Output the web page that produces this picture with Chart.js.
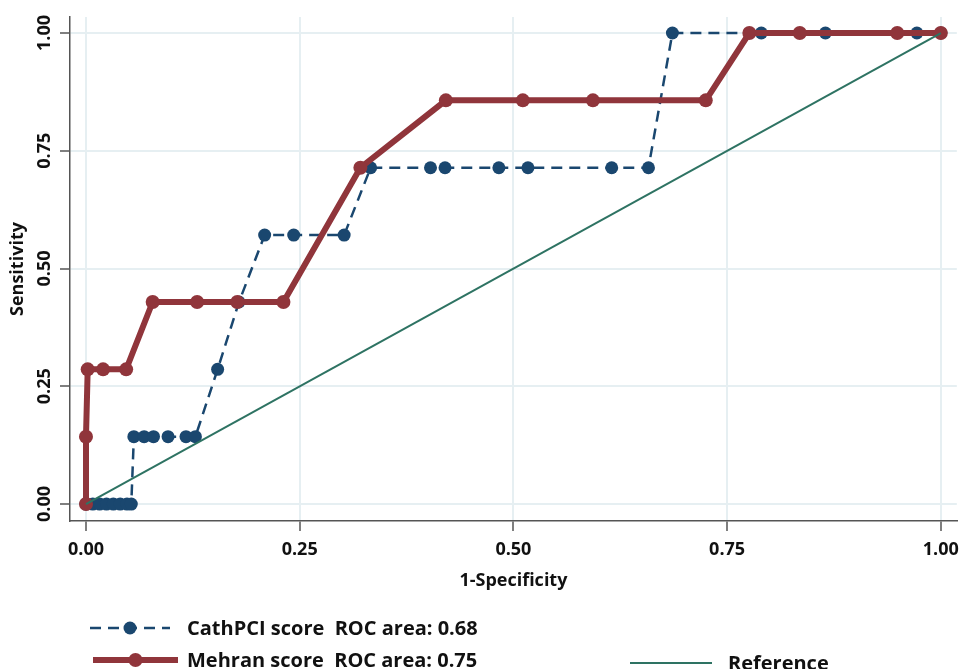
<!DOCTYPE html>
<html lang="en">
<head>
  <meta charset="UTF-8">
  <title>ROC curves</title>
  <script src="https://cdn.jsdelivr.net/npm/chart.js"></script>
  <style>
    html, body { margin: 0; padding: 0; background: #fff; }
    #wrap { position: relative; width: 967px; height: 669px; }
  </style>
</head>
<body>
  <div id="wrap"><canvas id="roc"></canvas></div>

  <script>
    // values
    const cathX = [0, 0.008, 0.016, 0.024, 0.032, 0.040, 0.048, 0.053,
                   0.056, 0.068, 0.079, 0.096, 0.117, 0.128,
                   0.154, 0.179,
                   0.209, 0.243, 0.302,
                   0.333, 0.403, 0.420, 0.483, 0.517, 0.615, 0.658,
                   0.686, 0.790, 0.865, 0.972, 1.0];
    const cathY = [0, 0, 0, 0, 0, 0, 0, 0,
                   0.143, 0.143, 0.143, 0.143, 0.143, 0.143,
                   0.286, 0.429,
                   0.571, 0.571, 0.571,
                   0.714, 0.714, 0.714, 0.714, 0.714, 0.714, 0.714,
                   1, 1, 1, 1, 1];

    const mehranX = [0, 0, 0.002, 0.020, 0.047, 0.078, 0.130, 0.177, 0.231,
                     0.321, 0.421, 0.511, 0.593, 0.725, 0.776, 0.835, 0.949, 1.0];
    const mehranY = [0, 0.143, 0.286, 0.286, 0.286, 0.429, 0.429, 0.429, 0.429,
                     0.714, 0.857, 0.857, 0.857, 0.857, 1, 1, 1, 1];

    const refX = [0, 1];
    const refY = [0, 1];

    const axisTicks = [0, 0.25, 0.5, 0.75, 1];

    const labels = ['CathPCI score  ROC area: 0.68', 'Mehran score  ROC area: 0.75', 'Reference'];

    const BLUE = '#1a476f';
    const RED = '#90353b';
    const GREEN = '#2e7363';
    const FONT = '"Open Sans", Lato, sans-serif';

    const toPts = (xs, ys) => xs.map((x, i) => ({ x: x, y: ys[i] }));

    // hand drawn legend (two rows, Reference in a second column)
    const rocLegend = {
      id: 'rocLegend',
      afterDraw(chart) {
        const ctx = chart.ctx;
        const ds = chart.data.datasets;
        const rows = [
          { d: ds[0], x1: 90, x2: 170, y: 628, tx: 187 },
          { d: ds[1], x1: 93, x2: 178, y: 660, tx: 187 },
          { d: ds[2], x1: 630, x2: 712, y: 663, tx: 728 }
        ];
        ctx.save();
        rows.forEach(r => {
          ctx.beginPath();
          ctx.strokeStyle = r.d.borderColor;
          ctx.lineWidth = r.d.borderWidth;
          ctx.setLineDash(r.d.borderDash || []);
          ctx.moveTo(r.x1, r.y);
          ctx.lineTo(r.x2, r.y);
          ctx.stroke();
          ctx.setLineDash([]);
          if (r.d.pointRadius > 0) {
            ctx.beginPath();
            ctx.fillStyle = r.d.pointBackgroundColor;
            ctx.arc((r.x1 + r.x2) / 2, r.y, r.d.pointRadius, 0, Math.PI * 2);
            ctx.fill();
          }
          ctx.fillStyle = '#111';
          ctx.font = 'bold 20px ' + FONT;
          ctx.textAlign = 'left';
          ctx.textBaseline = 'middle';
          ctx.fillText(r.d.label, r.tx, r.y + 1);
        });
        ctx.restore();
      }
    };

    const gridOpts = { color: '#e6eff2', lineWidth: 2, tickColor: '#555', tickWidth: 1.5, tickLength: 10 };
    const tickFont = { family: FONT, size: 18, weight: 'bold' };
    const titleFont = { family: FONT, size: 18, weight: 'bold' };

    new Chart(document.getElementById('roc'), {
      type: 'scatter',
      data: {
        datasets: [
          {
            label: labels[0],
            data: toPts(cathX, cathY),
            showLine: true,
            borderColor: BLUE,
            borderWidth: 2.5,
            borderDash: [11, 7],
            pointRadius: 6.5,
            pointHoverRadius: 6.5,
            pointBackgroundColor: BLUE,
            pointBorderWidth: 0,
            order: 3
          },
          {
            label: labels[1],
            data: toPts(mehranX, mehranY),
            showLine: true,
            borderColor: RED,
            borderWidth: 6,
            pointRadius: 7,
            pointHoverRadius: 7,
            pointBackgroundColor: RED,
            pointBorderWidth: 0,
            order: 2
          },
          {
            label: labels[2],
            data: toPts(refX, refY),
            showLine: true,
            borderColor: GREEN,
            borderWidth: 2,
            pointRadius: 0,
            order: 1
          }
        ]
      },
      options: {
        responsive: true,
        maintainAspectRatio: false,
        animation: false,
        layout: { padding: { top: 17, right: 9, bottom: 73, left: 0 } },
        plugins: {
          legend: { display: false },
          tooltip: { enabled: false }
        },
        scales: {
          x: {
            type: 'linear',
            min: -0.0187,
            max: 1.0187,
            afterBuildTicks: s => { s.ticks = axisTicks.map(v => ({ value: v })); },
            afterFit: s => { s.height = 75; },
            border: { color: '#555', width: 1.5 },
            grid: gridOpts,
            ticks: {
              color: '#111',
              font: tickFont,
              padding: 8,
              maxRotation: 0,
              callback: v => Number(v).toFixed(2)
            },
            title: {
              display: true,
              text: '1-Specificity',
              color: '#111',
              font: titleFont,
              padding: { top: 0 }
            }
          },
          y: {
            type: 'linear',
            min: -0.036,
            max: 1.034,
            afterBuildTicks: s => { s.ticks = axisTicks.map(v => ({ value: v })); },
            afterFit: s => { s.width = 70; },
            border: { color: '#555', width: 1.5 },
            grid: gridOpts,
            ticks: {
              color: '#111',
              font: tickFont,
              padding: -3,
              minRotation: 90,
              maxRotation: 90,
              crossAlign: 'center',
              callback: v => Number(v).toFixed(2)
            },
            title: {
              display: true,
              text: 'Sensitivity',
              color: '#111',
              font: titleFont,
              padding: { top: 7, bottom: 0 }
            }
          }
        }
      },
      plugins: [rocLegend]
    });
  </script>
</body>
</html>
